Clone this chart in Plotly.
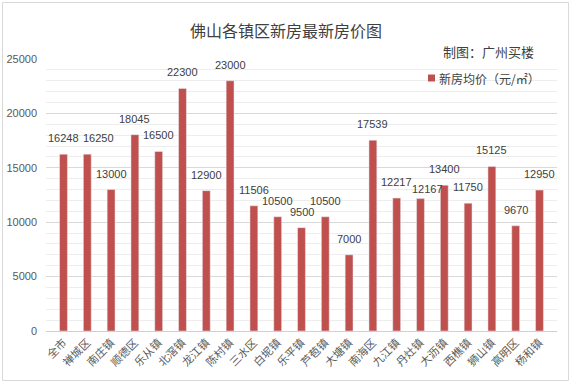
import plotly.graph_objects as go

categories = ["全市", "禅城区", "南庄镇", "顺德区", "乐从镇", "北滘镇", "龙江镇", "陈村镇",
              "三水区", "白坭镇", "乐平镇", "芦苞镇", "大塘镇", "南海区", "九江镇", "丹灶镇",
              "大沥镇", "西樵镇", "狮山镇", "高明区", "杨和镇"]
values = [16248, 16250, 13000, 18045, 16500, 22300, 12900, 23000, 11506, 10500, 9500,
          10500, 7000, 17539, 12217, 12167, 13400, 11750, 15125, 9670, 12950]
series_name = "新房均价（元/㎡）"
title_text = "佛山各镇区新房最新房价图"
credit_text = "制图：广州买楼"
y_ticks = [0, 5000, 10000, 15000, 20000, 25000]

# nudges (px) for data labels that would collide, as in the original
label_nudge = {"禅城区": (11, 0), "丹灶镇": (7, -6)}

W, H = 572, 384
L, R, T, B = 46, 15, 59, 53
PW, PH = W - L - R, H - T - B

def px(x):
    return (x - L) / PW

def py(y):
    return (H - B - y) / PH

BAR = "#C0504D"
TXT = "#595959"
FONT = "Liberation Sans, Noto Sans CJK SC, sans-serif"
CJK = "Noto Sans CJK SC, sans-serif"

fig = go.Figure()
fig.add_trace(go.Bar(x=categories, y=values, marker_color=BAR, name=series_name,
                     showlegend=False))

annotations = []
for c, v in zip(categories, values):
    dx, dy = label_nudge.get(c, (0, 0))
    annotations.append(dict(x=c, y=v, xref="x", yref="y", text=str(v), showarrow=False,
                            yanchor="bottom", yshift=8 + dy, xshift=dx,
                            font=dict(family=FONT, size=11, color="#404040")))

annotations.append(dict(x=px(286), y=py(30), xref="paper", yref="paper", text=title_text,
                        showarrow=False, xanchor="center", yanchor="middle",
                        font=dict(family=CJK, size=16, color="#404040")))
annotations.append(dict(x=px(441), y=py(51), xref="paper", yref="paper", text=credit_text,
                        showarrow=False, xanchor="left", yanchor="middle",
                        font=dict(family=CJK, size=13, color="#404040")))
annotations.append(dict(x=px(437), y=py(78), xref="paper", yref="paper", text=series_name,
                        showarrow=False, xanchor="left", yanchor="middle",
                        font=dict(family=CJK, size=12, color="#404040")))

shapes = [
    dict(type="rect", xref="paper", yref="paper", x0=px(428), x1=px(435), y0=py(74.5), y1=py(81.5),
         fillcolor=BAR, line=dict(width=0)),
    dict(type="rect", xref="paper", yref="paper", x0=px(2.5), x1=px(568.5), y0=py(2.5), y1=py(380.5),
         line=dict(color="#D9D9D9", width=1), fillcolor="rgba(0,0,0,0)"),
]

fig.update_layout(
    width=W, height=H,
    margin=dict(l=L, r=R, t=T, b=B, pad=0, autoexpand=False),
    paper_bgcolor="white", plot_bgcolor="white",
    bargap=0.67,
    annotations=annotations, shapes=shapes,
    font=dict(family=FONT, size=11, color=TXT),
    xaxis=dict(showgrid=False, tickangle=-45, ticks="", showline=True, linecolor="#D0D0D0",
               linewidth=1, automargin=False, tickfont=dict(family=CJK, size=11, color=TXT)),
    yaxis=dict(range=[0, 25000], tickvals=y_ticks, tickformat="d", showgrid=True,
               gridcolor="#D9D9D9", gridwidth=1, zeroline=False, ticks="", showline=False,
               automargin=False, ticklabelstandoff=8, tickfont=dict(family=FONT, size=11, color=TXT),
               minor=dict(dtick=1000, showgrid=True, gridcolor="#EDEDED", gridwidth=1)),
)

fig.write_html("out.html", config={"displayModeBar": False},
               post_script="document.body.style.margin='0';")
